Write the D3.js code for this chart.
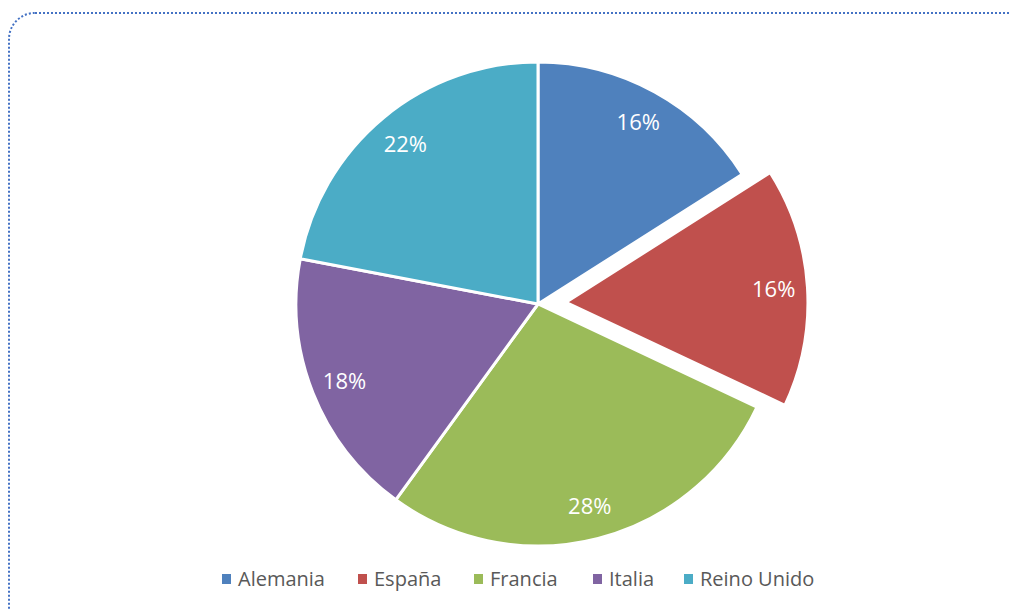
<!DOCTYPE html>
<html>
<head>
<meta charset="utf-8">
<script src="https://cdn.jsdelivr.net/npm/d3@7"></script>
<style>
  body { margin: 0; background: #fff; }
  svg { display: block; }
</style>
</head>
<body>
<svg id="chart" width="1011" height="610"></svg>
<script>
// data
var categories = ['Alemania', 'España', 'Francia', 'Italia', 'Reino Unido'];
var values = [16, 16, 28, 18, 22];
var colors = ['#4F81BD', '#C0504D', '#9BBB59', '#8064A2', '#4BACC6'];
var explodedIndex = 1;

var svg = d3.select('#chart');

// dotted frame (runs off right and bottom)
svg.append('rect')
  .attr('x', 9).attr('y', 13)
  .attr('width', 1040).attr('height', 640)
  .attr('rx', 26).attr('ry', 26)
  .attr('fill', 'none')
  .attr('stroke', '#4472C4')
  .attr('stroke-width', 2)
  .attr('stroke-dasharray', '2,2');

var cx = 538, cy = 304, radius = 242;

var pie = d3.pie().sort(null).value(function(d) { return d; });
var arcs = pie(values);

var arc = d3.arc().innerRadius(0).outerRadius(radius);
var labelArc = d3.arc().innerRadius(radius * 0.86).outerRadius(radius * 0.86);

var g = svg.append('g').attr('transform', 'translate(' + cx + ',' + cy + ')');

function offset(d, i) {
  if (i !== explodedIndex) return [0, 0];
  var mid = (d.startAngle + d.endAngle) / 2;
  return [Math.sin(mid) * 28, -Math.cos(mid) * 28];
}

var slices = g.selectAll('g.slice')
  .data(arcs)
  .enter().append('g')
  .attr('class', 'slice')
  .attr('transform', function(d, i) {
    var o = offset(d, i);
    return 'translate(' + o[0] + ',' + o[1] + ')';
  });

slices.append('path')
  .attr('d', arc)
  .attr('fill', function(d, i) { return colors[i]; })
  .attr('stroke', '#fff')
  .attr('stroke-width', 3)
  .attr('stroke-linejoin', 'round');

slices.append('text')
  .attr('transform', function(d) {
    var c = labelArc.centroid(d);
    return 'translate(' + c[0] + ',' + c[1] + ')';
  })
  .attr('text-anchor', 'middle')
  .attr('dy', '0.36em')
  .attr('fill', '#fff')
  .style('font-family', '"Open Sans", sans-serif')
  .style('font-size', '22px')
  .text(function(d) { return d.value + '%'; });

// legend
var legendX = [222, 358, 474, 593, 684];
var legend = svg.append('g');
var item = legend.selectAll('g')
  .data(categories)
  .enter().append('g')
  .attr('transform', function(d, i) { return 'translate(' + legendX[i] + ',579)'; });

item.append('rect')
  .attr('x', 0).attr('y', -5)
  .attr('width', 9).attr('height', 10)
  .attr('fill', function(d, i) { return colors[i]; });

item.append('text')
  .attr('x', 16)
  .attr('dy', '0.36em')
  .attr('fill', '#595959')
  .style('font-family', '"Open Sans", sans-serif')
  .style('font-size', '20px')
  .text(function(d) { return d; });
</script>
</body>
</html>
